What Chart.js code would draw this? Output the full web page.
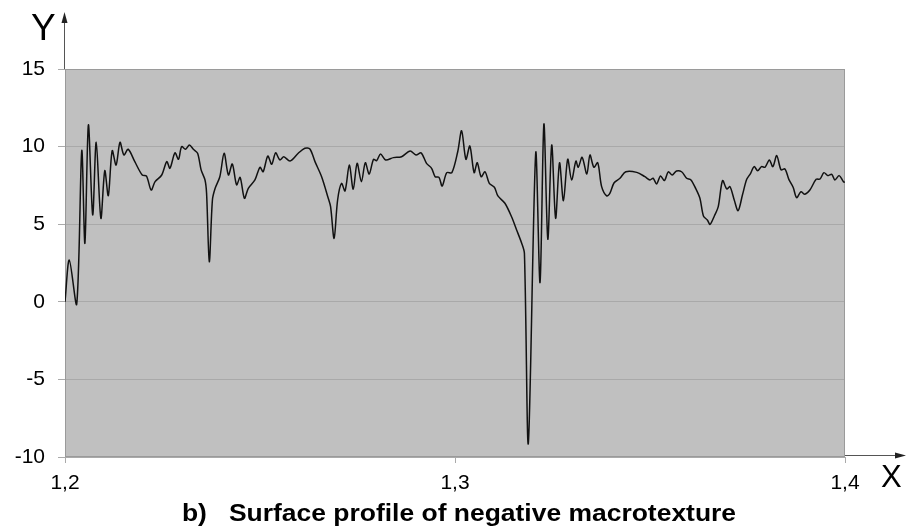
<!DOCTYPE html>
<html>
<head>
<meta charset="utf-8">
<script src="https://cdn.jsdelivr.net/npm/chart.js@4"></script>
<style>
html, body { margin: 0; padding: 0; background: #fff; }
</style>
</head>
<body>
<canvas id="chart" width="907" height="527"></canvas>
<script>
// DATA
let xVals = [1.2000, 1.2011, 1.2030, 1.2043, 1.2051, 1.2060, 1.2071, 1.2080, 1.2092, 1.2102,
  1.2111, 1.2121, 1.2131, 1.2141, 1.2151, 1.2162, 1.2179, 1.2198, 1.2209, 1.2221,
  1.2231, 1.2248, 1.2261, 1.2269, 1.2282, 1.2291, 1.2299, 1.2309, 1.2319, 1.2329,
  1.2340, 1.2349, 1.2359, 1.2363, 1.2370, 1.2378, 1.2385, 1.2397, 1.2408, 1.2419,
  1.2429, 1.2440, 1.2449, 1.2460, 1.2470, 1.2487, 1.2500, 1.2508, 1.2520, 1.2530,
  1.2540, 1.2551, 1.2561, 1.2577, 1.2598, 1.2615, 1.2628, 1.2641, 1.2658, 1.2675,
  1.2681, 1.2690, 1.2699, 1.2709, 1.2718, 1.2729, 1.2739, 1.2749, 1.2760, 1.2770,
  1.2780, 1.2791, 1.2799, 1.2809, 1.2822, 1.2842, 1.2863, 1.2885, 1.2900, 1.2913,
  1.2927, 1.2940, 1.2949, 1.2959, 1.2967, 1.2979, 1.2992, 1.3007, 1.3017, 1.3028,
  1.3038, 1.3049, 1.3057, 1.3067, 1.3077, 1.3088, 1.3101, 1.3110, 1.3128, 1.3145,
  1.3158, 1.3171, 1.3178, 1.3188, 1.3207, 1.3218, 1.3228, 1.3238, 1.3248, 1.3258,
  1.3268, 1.3278, 1.3289, 1.3299, 1.3310, 1.3316, 1.3326, 1.3338, 1.3346, 1.3356,
  1.3366, 1.3376, 1.3389, 1.3397, 1.3408, 1.3423, 1.3438, 1.3466, 1.3487, 1.3500,
  1.3508, 1.3517, 1.3527, 1.3537, 1.3547, 1.3557, 1.3568, 1.3581, 1.3594, 1.3605,
  1.3617, 1.3628, 1.3637, 1.3647, 1.3654, 1.3665, 1.3675, 1.3686, 1.3697, 1.3705,
  1.3716, 1.3726, 1.3737, 1.3748, 1.3758, 1.3767, 1.3776, 1.3786, 1.3795, 1.3806,
  1.3815, 1.3825, 1.3836, 1.3846, 1.3856, 1.3867, 1.3876, 1.3887, 1.3897, 1.3910,
  1.3926, 1.3936, 1.3946, 1.3956, 1.3966, 1.3974, 1.3985, 1.3996, 1.4000];

let yVals = [0, 2.7, -0.15, 9.74, 3.77, 11.4, 5.6, 10.28, 5.38, 8.45,
  6.84, 9.74, 8.81, 10.28, 9.46, 9.83, 9.03, 8.17, 8.1, 7.2,
  7.74, 8.17, 9.03, 8.6, 9.6, 9.18, 10.0, 9.83, 10.1, 9.83,
  9.57, 8.5, 7.85, 7.0, 2.58, 6.56, 7.31, 8.06, 9.57, 8.17,
  8.88, 7.53, 8.02, 6.67, 7.31, 7.85, 8.67, 8.38, 9.39, 8.86,
  9.6, 9.14, 9.35, 9.07, 9.57, 9.89, 9.85, 9.03, 8.06, 6.67,
  6.13, 4.09, 6.56, 7.63, 7.14, 8.81, 7.25, 8.92, 7.74, 8.96,
  8.23, 9.18, 9.09, 9.52, 9.14, 9.29, 9.35, 9.72, 9.46, 9.6,
  8.92, 8.6, 8.06, 8.02, 7.46, 8.32, 8.32, 9.67, 11.02, 9.18,
  10.04, 8.32, 8.96, 8.06, 8.38, 7.63, 7.38, 6.82, 6.35, 5.48,
  4.63, 3.77, 3.12, -9.12, 9.6, 1.24, 11.46, 4.03, 10.1, 5.38,
  8.96, 6.51, 9.18, 7.85, 9.07, 8.67, 9.31, 8.23, 9.46, 8.67,
  8.96, 7.42, 6.82, 6.99, 7.67, 7.96, 8.38, 8.34, 8.06, 7.85,
  7.96, 7.59, 8.11, 7.81, 8.38, 8.17, 8.43, 8.38, 7.96, 7.85,
  7.31, 6.67, 5.53, 5.27, 4.99, 5.53, 6.13, 7.81, 7.27, 7.42,
  6.56, 5.87, 6.88, 7.89, 8.28, 8.71, 8.45, 8.71, 8.67, 9.14,
  8.71, 9.42, 8.5, 8.56, 7.89, 7.38, 6.71, 7.09, 6.93, 7.2,
  7.89, 7.91, 8.32, 8.13, 8.21, 7.85, 8.13, 7.74, 7.7];

let xTicks = [1.2, 1.3, 1.4];
let yTicks = [-10, -5, 0, 5, 10, 15];

let points = xVals.map((x, i) => ({ x: x, y: yVals[i] }));

// PLOT BACKGROUND, BORDER, ARROWS, LABELS
let decor = {
  id: "decor",
  beforeDraw(c) {
    let a = c.chartArea;
    let ctx = c.ctx;
    ctx.save();
    ctx.fillStyle = "#c0c0c0";
    ctx.fillRect(a.left, a.top, a.right - a.left, a.bottom - a.top);
    ctx.restore();
  },
  beforeDatasetsDraw(c) {
    let a = c.chartArea;
    let ctx = c.ctx;
    ctx.save();
    ctx.strokeStyle = "#9a9a9a";
    ctx.lineWidth = 1;
    ctx.strokeRect(a.left + 0.5, a.top + 0.5, a.right - a.left - 1, a.bottom - a.top - 1);
    ctx.restore();
  },
  afterDraw(c) {
    let a = c.chartArea;
    let ctx = c.ctx;
    ctx.save();
    ctx.strokeStyle = "#555";
    ctx.fillStyle = "#222";
    ctx.lineWidth = 1;
    // y arrow
    ctx.beginPath();
    ctx.moveTo(a.left - 0.5, a.top);
    ctx.lineTo(a.left - 0.5, 20);
    ctx.stroke();
    ctx.beginPath();
    ctx.moveTo(a.left - 0.5, 12);
    ctx.lineTo(a.left - 3.5, 23);
    ctx.lineTo(a.left + 2.5, 23);
    ctx.closePath();
    ctx.fill();
    // x arrow
    ctx.beginPath();
    ctx.moveTo(a.right, a.bottom - 1.5);
    ctx.lineTo(897, a.bottom - 1.5);
    ctx.stroke();
    ctx.beginPath();
    ctx.moveTo(906, a.bottom - 1.5);
    ctx.lineTo(895, a.bottom - 4.5);
    ctx.lineTo(895, a.bottom + 1.5);
    ctx.closePath();
    ctx.fill();

    ctx.fillStyle = "#000";
    ctx.textAlign = "left";
    ctx.textBaseline = "alphabetic";
    ctx.font = "37px 'Liberation Sans', Arial, sans-serif";
    ctx.fillText("Y", 31, 40);
    ctx.font = "31px 'Liberation Sans', Arial, sans-serif";
    ctx.fillText("X", 881, 487);

    // title, slightly widened like the source
    ctx.font = "bold 23px 'Liberation Sans', Arial, sans-serif";
    ctx.textAlign = "center";
    ctx.translate(459, 521);
    ctx.scale(1.15, 1);
    ctx.fillText("b)   Surface profile of negative macrotexture", 0, 0);
    ctx.restore();
  }
};

// CHART
let chart = new Chart(document.getElementById("chart"), {
  type: "line",
  data: {
    datasets: [{
      data: points,
      borderColor: "#111",
      borderWidth: 1.5,
      pointRadius: 0,
      tension: 0.3,
      fill: false
    }]
  },
  options: {
    responsive: false,
    animation: false,
    layout: { padding: { left: 0, top: 69, right: 62, bottom: 0 } },
    plugins: { legend: { display: false }, tooltip: { enabled: false } },
    scales: {
      x: {
        type: "linear",
        min: 1.2,
        max: 1.4,
        afterFit: s => { s.height = 70; },
        afterBuildTicks: s => { s.ticks = xTicks.map(v => ({ value: v })); },
        grid: { drawOnChartArea: false, tickLength: 6, tickColor: "#aaa" },
        border: { display: false },
        ticks: {
          padding: 8,
          color: "#000",
          font: { family: "'Liberation Sans', Arial, sans-serif", size: 21 },
          maxRotation: 0,
          autoSkip: false,
          callback: v => v.toFixed(1).replace(".", ",")
        }
      },
      y: {
        min: -10,
        max: 15,
        afterFit: s => { s.width = 65; },
        afterBuildTicks: s => { s.ticks = yTicks.map(v => ({ value: v })); },
        grid: { color: "#a9a9a9", tickLength: 7, tickColor: "#aaa" },
        border: { display: false },
        ticks: {
          padding: 13,
          color: "#000",
          font: { family: "'Liberation Sans', Arial, sans-serif", size: 21 },
          callback: v => String(v)
        }
      }
    }
  },
  plugins: [decor]
});
</script>
</body>
</html>
